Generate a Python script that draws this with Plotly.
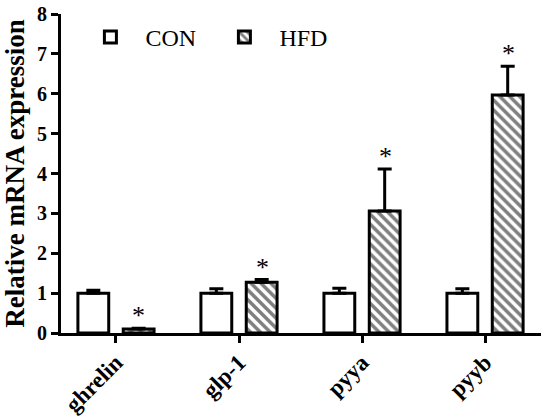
import plotly.graph_objects as go

categories = ["ghrelin", "glp-1", "pyya", "pyyb"]
con_values = [1.0, 1.0, 1.0, 1.0]
con_errors = [0.07, 0.11, 0.12, 0.11]
hfd_values = [0.1, 1.27, 3.06, 5.97]
hfd_errors = [0.02, 0.07, 1.05, 0.72]
hfd_marks = ["*", "*", "*", "*"]
y_ticks = [0, 1, 2, 3, 4, 5, 6, 7, 8]

SERIF = "Liberation Serif, Times New Roman, serif"

fig = go.Figure()
fig.add_trace(go.Bar(
    name="CON", x=categories, y=con_values,
    marker=dict(color="white", line=dict(color="black", width=3)),
    error_y=dict(type="data", array=con_errors, arrayminus=[0] * 4, symmetric=False,
                 color="black", thickness=3, width=7),
))
fig.add_trace(go.Bar(
    name="HFD", x=categories, y=hfd_values,
    marker=dict(color="white", line=dict(color="black", width=3),
                pattern=dict(shape="\\", fgcolor="black", bgcolor="white", size=7, solidity=0.5)),
    error_y=dict(type="data", array=hfd_errors, arrayminus=[0] * 4, symmetric=False,
                 color="black", thickness=3, width=7),
))

for cat, v, e, m in zip(categories, hfd_values, hfd_errors, hfd_marks):
    fig.add_annotation(x=cat, y=v + e, text=m, showarrow=False, xref="x", yref="y",
                       yanchor="bottom", xshift=23, yshift=-4,
                       font=dict(family=SERIF, size=26, color="black"))

fig.update_layout(
    width=550, height=418,
    margin=dict(l=61, r=9, t=14, b=85),
    paper_bgcolor="white", plot_bgcolor="white",
    barmode="group", bargap=0.263, bargroupgap=0.32,
    showlegend=True,
    legend=dict(orientation="h", x=0.03, y=0.997, xanchor="left", yanchor="top",
                font=dict(family=SERIF, size=24, color="black"),
                itemwidth=60, entrywidth=59, bgcolor="rgba(0,0,0,0)"),
    font=dict(family=SERIF, color="black"),
)
fig.update_xaxes(
    range=[-0.447, 3.455], showline=True, linewidth=3, linecolor="black",
    ticks="outside", ticklen=7, tickwidth=3, tickcolor="black", tickangle=-45,
    tickfont=dict(family=SERIF, size=23, color="black", weight="bold"),
    ticklabelstandoff=-3,
    showgrid=False, zeroline=False, automargin=False,
)
fig.update_yaxes(
    range=[0, 8], tickvals=y_ticks, showline=True, linewidth=3, linecolor="black",
    ticks="outside", ticklen=7, tickwidth=3, tickcolor="black",
    tickfont=dict(family=SERIF, size=20, color="black", weight="bold"),
    showgrid=False, zeroline=False, automargin=False,
    title=dict(text="Relative mRNA expression", standoff=5,
               font=dict(family=SERIF, size=27, color="black", weight="bold")),
)

fig.write_html("out.html", config={"displayModeBar": False},
               post_script="document.body.style.margin='0';")
